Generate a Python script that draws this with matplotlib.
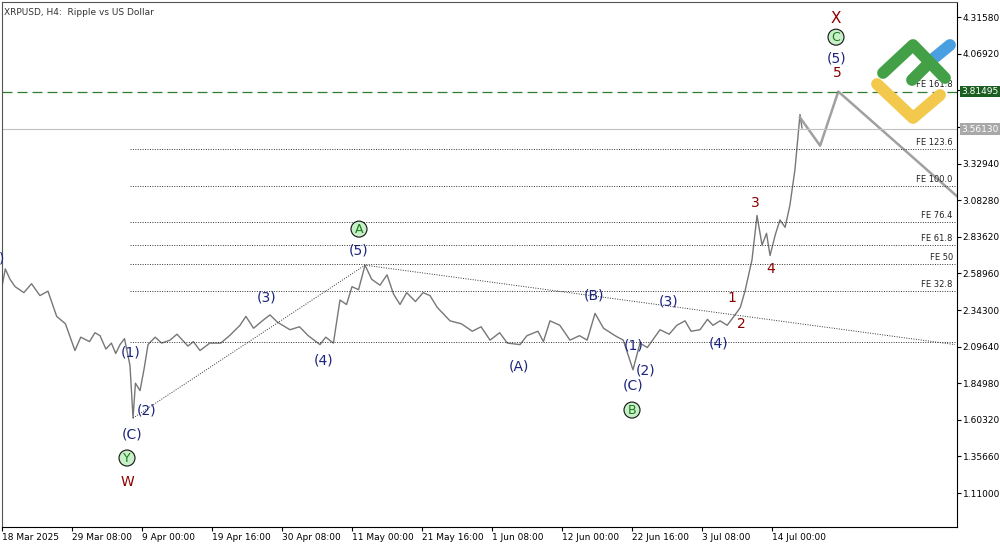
import numpy as np
import matplotlib.pyplot as plt
from matplotlib.lines import Line2D

# price path (bar index of 4h bars, price)
bars = [0, 3, 7.3, 12, 20, 27, 34.7, 42, 50, 58, 66.7, 72, 80, 85, 89.6, 95, 100, 104, 107.9, 112, 117, 119.8, 122, 126.2,
        130, 133.5, 140, 146, 153.6, 160, 170, 175, 181, 190, 200, 208, 217.6, 223, 230, 238, 245, 252, 263.3, 272, 280,
        290.7, 296, 303, 309, 315, 320, 326, 331.9, 338, 345.6, 352, 358, 363.9, 370, 378, 385, 391.3, 398, 409.6, 420,
        430, 438, 446.2, 455, 462, 473.6, 480, 490, 495, 501, 510, 519.3, 528, 535, 542.2, 550, 560.5, 568, 576.9,
        583.3, 590, 601.6, 610, 617, 624.5, 630, 638.2, 645, 650, 656.5, 663, 670.2, 675, 679.3, 685.7, 690.3, 694.9,
        699, 702.2, 707, 711.3, 716, 720.4, 725, 729.6, 731.4]
price = [2.50, 2.62, 2.55, 2.50, 2.46, 2.52, 2.44, 2.47, 2.30, 2.25, 2.07, 2.16, 2.13, 2.19, 2.17, 2.08, 2.12, 2.05, 2.11,
         2.15, 1.97, 1.615, 1.85, 1.80, 1.95, 2.11, 2.16, 2.12, 2.14, 2.18, 2.10, 2.13, 2.07, 2.12, 2.12, 2.17,
         2.24, 2.30, 2.22, 2.27, 2.31, 2.26, 2.21, 2.23, 2.17, 2.11, 2.16, 2.12, 2.41, 2.38, 2.50, 2.48, 2.645, 2.55,
         2.51, 2.58, 2.45, 2.38, 2.46, 2.40, 2.46, 2.44, 2.36, 2.27, 2.25, 2.20, 2.23, 2.14, 2.19, 2.12, 2.11, 2.17,
         2.20, 2.13, 2.27, 2.24, 2.14, 2.17, 2.14, 2.32, 2.22, 2.17, 2.14, 1.94, 2.12, 2.09, 2.21, 2.18, 2.24, 2.27,
         2.20, 2.21, 2.28, 2.24, 2.27, 2.24, 2.31, 2.36, 2.47, 2.68, 2.98, 2.78, 2.86, 2.71, 2.85, 2.95, 2.90,
         3.05, 3.29, 3.66, 3.57]
fe_labels = ["FE 161.8", "FE 123.6", "FE 100.0", "FE 76.4", "FE 61.8", "FE 50", "FE 32.8"]
fe_values = [3.81495, 3.427, 3.178, 2.935, 2.78, 2.652, 2.47]
base_level = 2.127
forecast_bars = [729.6, 748, 764.6, 873]
forecast_price = [3.64, 3.45, 3.81495, 3.11]
yticks = [4.3158, 4.0692, 3.8226, 3.5760, 3.3294, 3.0828, 2.8362, 2.5896, 2.3430, 2.0964, 1.8498, 1.6032, 1.3566, 1.1100]
xlabels = ["18 Mar 2025", "29 Mar 08:00", "9 Apr 00:00", "19 Apr 16:00", "30 Apr 08:00", "11 May 00:00",
           "21 May 16:00", "1 Jun 08:00", "12 Jun 00:00", "22 Jun 16:00", "3 Jul 08:00", "14 Jul 00:00"]

def P(px, py):
    return (px - 2) * 64 / 70, 4.3158 - (py - 17) * 0.006735

fig = plt.figure(figsize=(10, 5.45), dpi=100)
ax = fig.add_axes([0.002, 0.033, 0.955, 0.963])
x0, y_top = P(2, 2)
x1, y_bot = P(957, 527)
ax.set_xlim(x0, x1)
ax.set_ylim(y_bot, y_top)

ax.plot(bars, price, color="#777777", lw=1)
ax.plot(forecast_bars, forecast_price, color="#a0a0a0", lw=1.8)
ax.axhline(3.5613, color="#c0c0c0", lw=0.8)
ax.axhline(3.81495, color="#2e7d32", lw=0.9, dashes=(8, 4))

xs, _ = P(130, 0)
xe, _ = P(955, 0)
for lab, v in zip(fe_labels, fe_values):
    if lab != "FE 161.8":
        ax.plot([xs, xe], [v, v], color="#333333", lw=0.7, ls=(0, (1, 1.5)))
    ax.text(xe - 2, v + 0.015, lab, fontsize=6, ha="right", va="bottom", color="#222222")
ax.plot([xs, xe], [base_level, base_level], color="#333333", lw=0.7, ls=(0, (1, 1.5)))
# triangle lines
ax.plot([bars[21], bars[52], xe], [price[21], price[52], 2.11], color="#333333", lw=0.7, ls=(0, (1, 1.5)))

navy = "#1a237e"
red = "#8b0000"
labels = [((131, 352), "(1)", navy), ((147, 410), "(2)", navy), ((132, 434), "(C)", navy), ((127, 482), "W", red),
          ((267, 297), "(3)", navy), ((324, 360), "(4)", navy), ((359, 250), "(5)", navy),
          ((519, 366), "(A)", navy), ((594, 295), "(B)", navy), ((634, 345), "(1)", navy), ((646, 370), "(2)", navy),
          ((633, 385), "(C)", navy), ((669, 301), "(3)", navy), ((719, 343), "(4)", navy),
          ((732, 298), "1", red), ((741, 324), "2", red), ((755, 203), "3", red), ((771, 269), "4", red),
          ((836, 18), "X", red), ((837, 58), "(5)", navy), ((837, 73), "5", red), ((2, 258), ")", navy)]
for (px, py), t, c in labels:
    ax.text(*P(px, py), t, color=c, fontsize=11 if t == "X" else 10, ha="center", va="center")
for (px, py), t in [((127, 458), "Y"), ((359, 229), "A"), ((632, 410), "B"), ((836, 37), "C")]:
    ax.text(*P(px, py), t, color="#1b7a1b", fontsize=9, ha="center", va="center",
            bbox=dict(boxstyle="circle,pad=0.12", fc="#c8f0c8", ec="#111111", lw=0.8))

ax.yaxis.tick_right()
ax.set_yticks(yticks)
ax.set_yticklabels([f"{v:.5f}" for v in yticks], fontsize=6.5)
ax.tick_params(axis="y", length=3, pad=1)
ax.set_xticks([i * 64 for i in range(len(xlabels))])
ax.set_xticklabels(xlabels, fontsize=6.5, ha="left")
ax.tick_params(axis="x", length=3, pad=1)
for s in ["top", "left"]:
    ax.spines[s].set_color("#555555")
ax.annotate("3.81495", xy=(1, 3.81495), xycoords=("axes fraction", "data"), xytext=(3, 0),
            textcoords="offset points", fontsize=6.5, color="white", va="center",
            bbox=dict(boxstyle="square,pad=0.15", fc="#1b5e20", ec="none"))
ax.annotate("3.56130", xy=(1, 3.5613), xycoords=("axes fraction", "data"), xytext=(3, 0),
            textcoords="offset points", fontsize=6.5, color="white", va="center",
            bbox=dict(boxstyle="square,pad=0.15", fc="#a8a8a8", ec="none"))
fig.text(0.004, 0.985, "XRPUSD, H4:  Ripple vs US Dollar", fontsize=6.5, va="top", color="#333333")

# logo
def fl(pts, c):
    fig.add_artist(Line2D([p[0] / 1000 for p in pts], [1 - p[1] / 545 for p in pts], color=c, lw=8.5,
                          solid_capstyle="round", solid_joinstyle="round"))
fl([(877, 84), (913, 118), (940, 95)], "#f2c94c")
fl([(928, 63), (950, 45)], "#4a9fe0")
fl([(883, 73), (913, 45), (945, 78)], "#43a047")
fl([(912, 80), (929, 63)], "#43a047")

fig.savefig("out.png")
